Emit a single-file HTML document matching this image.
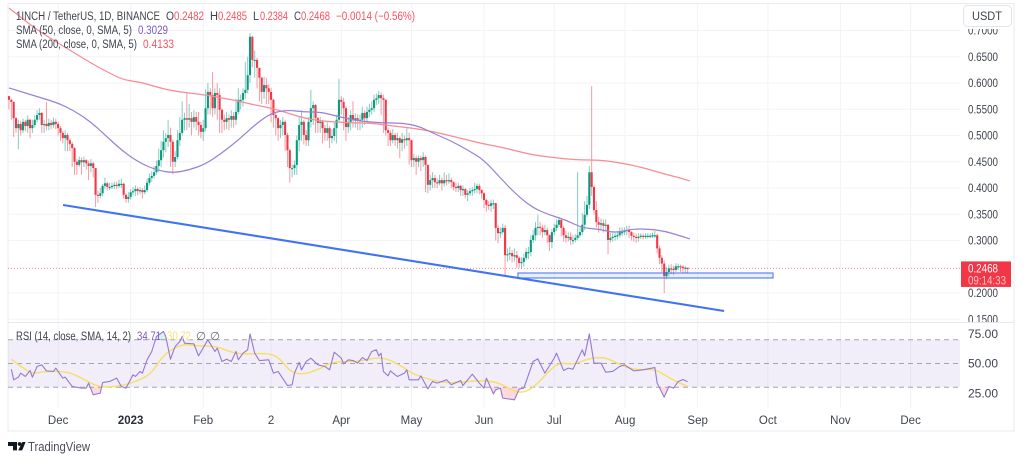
<!DOCTYPE html>
<html lang="en">
<head>
<meta charset="utf-8">
<title>1INCH / TetherUS chart</title>
<style>
html,body{margin:0;padding:0;background:#fff;width:1024px;height:462px;overflow:hidden}
svg{display:block;filter:blur(.3px)}
text{font-family:"Liberation Sans",sans-serif;font-size:11.5px;fill:#3f434e}
</style>
</head>
<body>
<svg id="chart" width="1024" height="462" viewBox="0 0 1024 462" xmlns="http://www.w3.org/2000/svg">
  <defs>
    <clipPath id="clip-price"><rect x="8" y="4" width="952" height="318"/></clipPath>
    <clipPath id="clip-axis"><rect x="961" y="29" width="52" height="293"/></clipPath>
  </defs>
  <rect x="8" y="3.5" width="1006" height="427.5" fill="#fff" stroke="#e9ebf1"/>
  <g id="grid"></g>
  <g id="rsi-pane"></g>
  <g id="price-pane" clip-path="url(#clip-price)"></g>
  <line x1="8" x2="1014" y1="322.5" y2="322.5" stroke="#e6e8ee"/>
  <g id="price-axis" clip-path="url(#clip-axis)"></g>
  <g id="rsi-axis"></g>
  <g id="time-axis"></g>
  <g id="last-price"></g>

  <g>
    <rect x="963.5" y="5.5" width="48" height="21" rx="4" fill="#fff" stroke="#e3e5ec"/>
    <text x="972" y="20" textLength="30" lengthAdjust="spacingAndGlyphs" fill="#2a2e39">USDT</text>
  </g>

  <g>
    <text x="16" y="20" textLength="144" lengthAdjust="spacingAndGlyphs">1INCH / TetherUS, 1D, BINANCE</text>
    <text x="166" y="20" textLength="8" lengthAdjust="spacingAndGlyphs">O</text>
    <text x="174" y="20" textLength="30" lengthAdjust="spacingAndGlyphs" style="fill:#f7525f">0.2482</text>
    <text x="210" y="20" textLength="8" lengthAdjust="spacingAndGlyphs">H</text>
    <text x="218" y="20" textLength="29" lengthAdjust="spacingAndGlyphs" style="fill:#f7525f">0.2485</text>
    <text x="253" y="20" textLength="6" lengthAdjust="spacingAndGlyphs">L</text>
    <text x="260" y="20" textLength="28" lengthAdjust="spacingAndGlyphs" style="fill:#f7525f">0.2384</text>
    <text x="294" y="20" textLength="7" lengthAdjust="spacingAndGlyphs">C</text>
    <text x="301" y="20" textLength="29" lengthAdjust="spacingAndGlyphs" style="fill:#f7525f">0.2468</text>
    <text x="336" y="20" textLength="79" lengthAdjust="spacingAndGlyphs" style="fill:#f7525f">−0.0014 (−0.56%)</text>
  </g>
  <g>
    <text x="16" y="34" textLength="116" lengthAdjust="spacingAndGlyphs">SMA (50, close, 0, SMA, 5)</text>
    <text x="138" y="34" textLength="30" lengthAdjust="spacingAndGlyphs" style="fill:#7e57c2">0.3029</text>
  </g>
  <g>
    <text x="16" y="48" textLength="121" lengthAdjust="spacingAndGlyphs">SMA (200, close, 0, SMA, 5)</text>
    <text x="143" y="48" textLength="31" lengthAdjust="spacingAndGlyphs" style="fill:#f7525f">0.4133</text>
  </g>
  <g>
    <text x="16" y="340" textLength="115" lengthAdjust="spacingAndGlyphs">RSI (14, close, SMA, 14, 2)</text>
    <text x="137" y="340" textLength="24" lengthAdjust="spacingAndGlyphs" style="fill:#7e57c2">34.71</text>
    <text x="167" y="340" textLength="24" lengthAdjust="spacingAndGlyphs" style="fill:#f7e27a">30.72</text>
    <text x="196" y="340" style="fill:#6a6d78">∅</text>
    <text x="210" y="340" style="fill:#6a6d78">∅</text>
  </g>

  <g>
    <path d="M8 442h9v8.4h-4v-4.4H8z" fill="#131722"/>
    <circle cx="19.6" cy="444" r="1.9" fill="#131722"/>
    <path d="M22.3 442H25.6l-3.4 8.4h-4z" fill="#131722"/>
    <text x="28" y="451" textLength="62" lengthAdjust="spacingAndGlyphs" style="font-size:13px;fill:#4a4e59">TradingView</text>
  </g>
</svg>
<script>
var closes = [
.568,.564,.533,.514,.522,.510,.526,.518,.530,.514,
.520,.530,.539,.543,.520,.522,.518,.524,.520,.526,
.522,.514,.505,.495,.501,.491,.484,.476,.450,.444,
.453,.449,.453,.447,.442,.447,.438,.387,.385,.390,
.404,.409,.402,.402,.404,.406,.404,.408,.408,.387,
.379,.383,.392,.394,.398,.394,.396,.392,.396,.410,
.419,.423,.430,.442,.453,.472,.488,.495,.501,.488,
.450,.459,.491,.505,.530,.533,.530,.533,.526,.535,
.526,.520,.507,.514,.552,.583,.577,.552,.581,.577,
.549,.530,.526,.533,.530,.537,.530,.545,.568,.568,
.581,.587,.615,.688,.644,.644,.629,.610,.583,.596,
.590,.583,.568,.539,.533,.514,.520,.526,.501,.472,
.438,.438,.444,.491,.520,.526,.501,.491,.526,.552,
.558,.533,.524,.526,.514,.505,.514,.495,.499,.514,
.530,.568,.564,.552,.516,.526,.539,.530,.533,.530,
.530,.543,.533,.545,.549,.552,.568,.571,.577,.571,
.568,.510,.505,.491,.501,.491,.495,.486,.493,.491,
.495,.491,.453,.457,.450,.457,.453,.459,.444,.406,
.415,.419,.411,.409,.415,.409,.415,.413,.415,.411,
.402,.400,.404,.396,.398,.387,.390,.394,.396,.398,
.404,.396,.390,.377,.368,.366,.371,.371,.324,.314,
.316,.324,.272,.274,.276,.270,.272,.267,.257,.259,
.267,.278,.278,.301,.310,.324,.326,.324,.316,.320,
.310,.297,.316,.324,.330,.339,.324,.310,.305,.307,
.301,.301,.305,.310,.316,.330,.349,.368,.430,.402,
.358,.335,.330,.333,.328,.330,.301,.305,.307,.309,
.310,.316,.316,.318,.320,.316,.309,.307,.305,.307,
.309,.307,.309,.309,.309,.310,.310,.285,.267,.256,
.232,.240,.247,.246,.244,.251,.251,.250,.248,.2482,.2468
];
var highs = [
.575,.570,.565,.535,.530,.528,.532,.530,.538,.532,
.530,.538,.548,.552,.545,.530,.564,.532,.530,.534,
.532,.526,.518,.508,.510,.505,.495,.488,.478,.455,
.460,.458,.460,.455,.452,.455,.450,.438,.395,.400,
.408,.420,.412,.410,.410,.412,.412,.416,.418,.410,
.390,.392,.398,.402,.405,.402,.402,.400,.405,.418,
.428,.432,.442,.452,.475,.490,.510,.505,.530,.515,
.492,.470,.510,.535,.565,.543,.583,.560,.545,.548,
.545,.545,.526,.530,.588,.600,.590,.621,.590,.600,
.590,.552,.540,.545,.540,.548,.545,.570,.590,.578,
.590,.640,.650,.695,.690,.662,.648,.625,.612,.612,
.610,.598,.590,.570,.545,.535,.530,.535,.530,.505,
.475,.445,.452,.500,.535,.548,.530,.510,.535,.587,
.565,.560,.535,.535,.530,.520,.525,.518,.512,.525,
.540,.608,.575,.572,.556,.535,.548,.565,.542,.540,
.540,.555,.548,.555,.560,.565,.578,.580,.585,.582,
.578,.570,.515,.510,.512,.505,.505,.498,.505,.500,
.514,.505,.492,.465,.462,.462,.462,.468,.462,.445,
.425,.430,.425,.418,.425,.420,.430,.425,.428,.420,
.413,.410,.410,.406,.405,.400,.396,.400,.402,.410,
.408,.408,.398,.392,.380,.375,.378,.378,.372,.330,
.325,.332,.330,.285,.288,.282,.285,.280,.270,.268,
.275,.285,.288,.310,.320,.335,.349,.335,.330,.330,
.325,.312,.322,.332,.340,.345,.342,.328,.318,.315,
.315,.310,.312,.430,.325,.352,.375,.385,.442,.594,
.405,.375,.345,.342,.340,.340,.332,.315,.315,.315,
.318,.325,.325,.325,.328,.328,.318,.315,.313,.314,
.314,.313,.314,.314,.314,.315,.318,.313,.290,.272,
.262,.250,.254,.255,.252,.257,.256,.254,.253,.252,.2485
];
var lows = [
.550,.530,.497,.505,.474,.500,.505,.508,.505,.495,
.505,.515,.525,.530,.505,.505,.510,.510,.512,.515,
.512,.500,.490,.485,.470,.470,.470,.440,.425,.425,
.440,.425,.440,.435,.415,.430,.420,.364,.372,.380,
.384,.398,.395,.396,.398,.398,.398,.400,.400,.380,
.372,.372,.378,.386,.385,.386,.388,.380,.388,.392,
.405,.412,.418,.425,.430,.440,.458,.468,.478,.440,
.426,.440,.455,.480,.500,.510,.510,.515,.500,.515,
.510,.500,.495,.490,.508,.540,.540,.535,.540,.530,
.505,.505,.510,.512,.510,.515,.515,.520,.540,.550,
.555,.570,.580,.600,.630,.610,.590,.565,.560,.570,
.560,.560,.525,.515,.500,.490,.495,.500,.470,.440,
.410,.420,.425,.425,.470,.490,.483,.480,.480,.515,
.520,.505,.505,.505,.485,.490,.490,.476,.485,.490,
.485,.525,.540,.510,.490,.505,.510,.515,.515,.510,
.510,.515,.520,.525,.535,.540,.545,.558,.560,.540,
.505,.500,.480,.480,.485,.480,.475,.457,.470,.475,
.480,.445,.440,.440,.425,.440,.432,.440,.392,.390,
.395,.400,.400,.400,.405,.395,.403,.405,.408,.400,
.395,.392,.392,.385,.385,.380,.375,.385,.385,.390,
.390,.388,.380,.362,.355,.358,.355,.360,.300,.295,
.305,.312,.234,.260,.262,.258,.260,.248,.248,.246,
.250,.262,.265,.270,.295,.300,.310,.310,.305,.310,
.295,.280,.285,.310,.318,.325,.308,.298,.296,.298,
.292,.292,.296,.300,.305,.310,.320,.345,.360,.385,
.350,.325,.315,.320,.315,.318,.274,.296,.298,.300,
.302,.306,.308,.310,.310,.305,.300,.298,.296,.298,
.303,.302,.303,.304,.304,.305,.305,.275,.255,.240,
.200,.226,.232,.236,.234,.240,.243,.240,.238,.238,.2384
];
var firstOpen = .575;
var smaDays = [0,7,14,21,28,35,42,49,56,63,70,77,84,91,98,105,112,119,126,133,140,147,154,161,168,175,182,189,196,203,210,217,224,231,238,245,252,259,266,273,280,287,291];
var sma50 = [.5905,.5810,.5714,.5619,.5467,.5257,.4971,.4686,.4476,.4343,.4286,.4343,.4457,.4667,.4914,.5200,.5429,.5486,.5448,.5448,.5371,.5295,.5257,.5238,.5238,.5181,.5029,.4895,.4724,.4533,.4190,.3867,.3619,.3486,.3390,.3238,.3219,.3143,.3219,.3219,.3181,.3086,.3029];
var sma200 = [.7429,.7181,.6952,.6762,.6571,.6381,.6210,.6057,.6019,.5924,.5848,.5810,.5771,.5714,.5657,.5581,.5524,.5429,.5333,.5276,.5257,.5238,.5238,.5200,.5162,.5124,.5067,.4990,.4914,.4838,.4781,.4705,.4629,.4590,.4552,.4533,.4533,.4495,.4438,.4362,.4267,.4190,.4133];
var rsiDays = [1,2,4,5,7,9,10,12,14,16,19,20,23,24,27,31,33,34,36,39,40,43,46,48,50,53,54,56,57,59,61,63,66,67,69,71,73,74,75,79,81,85,88,89,91,93,95,97,98,100,102,103,105,107,111,113,115,119,121,122,124,125,127,129,132,135,137,139,142,143,145,147,149,151,153,155,157,158,159,160,162,163,165,166,169,170,171,175,176,179,181,183,187,189,193,194,198,201,203,204,205,207,208,210,211,216,218,220,223,224,226,229,233,234,237,239,241,245,246,248,250,253,255,258,261,263,267,271,276,277,280,282,284,286,288,290];
var rsiValues = [45.2,36.3,38.5,41.9,39.1,44.1,38.5,47.5,48.9,43.8,43.3,46.1,37.7,38.5,30.7,29.3,29.3,33.5,23.7,25.1,34,34.9,37.7,30.7,29.3,40.5,39.1,43.3,41.9,53.1,60.1,72.7,76.9,72.7,53.6,64.3,68.5,72.7,67.1,66.5,56.4,69.9,60.1,62.9,51.7,53.6,51.7,60.1,53.1,58.7,61.5,74.9,58.7,52.5,53.1,41.9,43.3,31.5,32.1,41.9,51.1,44.7,51.7,54.5,48.9,47.5,44.7,59.5,54.5,49.7,53.1,52.5,50.3,55,52.5,60.1,61.5,56.4,58.7,43.3,39.6,43.8,40.5,39.1,41.9,44.7,36.3,36.3,39.6,28.7,34.9,33.5,36.3,32.1,35.7,31.5,41,33.5,29.3,37.7,33.5,24.5,27.9,29.3,20.9,19.5,28.4,29.3,46.1,51.7,53.9,41.9,54.5,58.7,44.1,46.1,45.2,61.5,56.4,74.9,50.3,50.3,42.7,43.3,47.5,48.9,43.8,44.7,46.6,33.5,21.7,30.7,29.3,34.9,36.5,34.71];
var rsiMaDays = [1,5,10,15,25,31,39,49,56,61,65,69,75,80,88,95,100,110,115,120,125,132,137,142,150,159,167,173,183,190,198,206,211,218,224,230,235,241,248,255,261,267,276,280,285,290];
var rsiMaValues = [53.6,47.5,41.3,43.3,43.3,37.7,29.3,31.5,36.3,41.9,54.5,61.5,66.5,64.8,64.8,59.5,57.8,58.7,55.9,43.3,40.5,44.7,50.3,51.7,51.7,55.9,48.9,40.5,34.9,33.5,35.4,35.4,32.1,24.5,29.3,41.9,51.1,48.9,54.5,55.3,48.9,44.7,45.2,40.5,34.9,30.72];
var monthLabels = ["Dec","2023","Feb","2","Apr","May","Jun","Jul","Aug","Sep","Oct","Nov","Dec"];
var monthDays = [21,52,83,112,142,172,203,233,263.3,294.3,324.3,355.3,385.3];
var priceTicks = [0.7,0.65,0.6,0.55,0.5,0.45,0.4,0.35,0.3,0.2,0.15];
var priceLabels = ["0.7000","0.6500","0.6000","0.5500","0.5000","0.4500","0.4000","0.3500","0.3000","0.2000","0.1500"];
var rsiTicks = [75,50,25];
var rsiLabels = ["75.00","50.00","25.00"];
var rsiBands = [70,50,30];
var trendDays = [23.1,305.6];
var trendPrices = [.3676,.1657];
var zoneDays = [217.5,326.5];
var zonePrices = [.2381,.2286];
var lastPrice = .2468;

function xOf(day){return 9+2.34*day;}
function yOf(price){return 293-(price-0.2)*525;}
function yRsi(v){return 363.5-(v-50)*1.19;}

var NS = 'http://www.w3.org/2000/svg';
function make(tag,parent,attrs){
  var el = document.createElementNS(NS,tag);
  for(var k in attrs){el.setAttribute(k,attrs[k]);}
  parent.appendChild(el);
  return el;
}
function smooth(days,values,fy){
  var pts = days.map(function(d,i){return [xOf(d),fy(values[i])];});
  var d = 'M'+pts[0][0]+' '+pts[0][1];
  for(var i=1;i<pts.length-1;i++){
    var mx=(pts[i][0]+pts[i+1][0])/2, my=(pts[i][1]+pts[i+1][1])/2;
    d += 'Q'+pts[i][0]+' '+pts[i][1]+' '+mx+' '+my;
  }
  var e = pts[pts.length-1];
  return d+'L'+e[0]+' '+e[1];
}
function straight(days,values,fy){
  return days.map(function(d,i){return (i?'L':'M')+xOf(d).toFixed(2)+' '+fy(values[i]).toFixed(2);}).join('');
}

var grid = document.getElementById('grid');
var timeAxis = document.getElementById('time-axis');
var priceAxis = document.getElementById('price-axis');
var rsiAxis = document.getElementById('rsi-axis');
var rsiPane = document.getElementById('rsi-pane');
var pricePane = document.getElementById('price-pane');
var lastGroup = document.getElementById('last-price');

monthDays.forEach(function(day,i){
  var v = make('line',grid,{x1:xOf(day),x2:xOf(day),y1:4,y2:408,stroke:'#f1f3f7'});
  
  
  var t = make('text',timeAxis,{x:xOf(day),y:424,'text-anchor':'middle'});
  
  
  t.textContent = monthLabels[i];
  if(monthLabels[i]==='2023'){t.style.fontWeight='bold';t.style.fill='#2a2e39';}
});
priceTicks.forEach(function(p,i){
  var h = make('line',grid,{x1:8,x2:960,y1:yOf(p),y2:yOf(p),stroke:'#f1f3f7'});
  
  
  var t = make('text',priceAxis,{x:968,y:yOf(p)+4,textLength:30,lengthAdjust:'spacingAndGlyphs'});
  
  
  t.textContent = priceLabels[i];
});
rsiTicks.forEach(function(v,i){
  var t = make('text',rsiAxis,{x:968,y:yRsi(v)+4,textLength:30,lengthAdjust:'spacingAndGlyphs'});
  
  
  t.textContent = rsiLabels[i];
});

/* RSI pane */
var band = make('rect',rsiPane,{x:8,width:952,y:yRsi(rsiBands[0]),height:yRsi(rsiBands[2])-yRsi(rsiBands[0]),fill:'#7e57c2','fill-opacity':.1});


rsiBands.forEach(function(v){
  var l = make('line',rsiPane,{x1:8,x2:960,y1:yRsi(v),y2:yRsi(v),stroke:'#a3a4ad','stroke-width':1,'stroke-dasharray':'5 4'});
  
  
});
var last = rsiDays.length-1;
function closed(base){
  return 'M'+xOf(rsiDays[0])+' '+yRsi(base)+straight(rsiDays,rsiValues,yRsi).replace('M','L')+'L'+xOf(rsiDays[last])+' '+yRsi(base)+'Z';
}
var defs = document.querySelector('defs');
var clipLow = make('clipPath',defs,{id:'clip-low'});
make('rect',clipLow,{x:8,y:yRsi(rsiBands[2]),width:952,height:30});
var clipHigh = make('clipPath',defs,{id:'clip-high'});
make('rect',clipHigh,{x:8,y:yRsi(rsiBands[0])-30,width:952,height:30});
var lowFill = make('path',rsiPane,{d:closed(rsiBands[2]),fill:'#f7525f','fill-opacity':.22,'clip-path':'url(#clip-low)'});


var highFill = make('path',rsiPane,{d:closed(rsiBands[0]),fill:'#089981','fill-opacity':.15,'clip-path':'url(#clip-high)'});


var rsiMa = make('path',rsiPane,{d:smooth(rsiMaDays,rsiMaValues,yRsi),fill:'none',stroke:'#f7de64','stroke-width':1.4});


var rsiLine = make('path',rsiPane,{d:straight(rsiDays,rsiValues,yRsi),fill:'none',stroke:'#9479d2','stroke-width':1.1,'stroke-linejoin':'round'});



/* Candles */
closes.forEach(function(c,i){
  var o = i ? closes[i-1] : firstOpen;
  var up = c>=o;
  var hi = Math.max(highs[i],o,c), lo = Math.min(lows[i],o,c);
  var colour = up ? '#089981' : '#f23645';
  var x = xOf(i);
  var w = make('line',pricePane,{x1:x,x2:x,y1:yOf(hi),y2:yOf(lo),stroke:colour,'stroke-opacity':.5,'stroke-width':1});
  
  
  var top = yOf(Math.max(o,c));
  var b = make('rect',pricePane,{x:x-1.05,width:2.1,y:top,height:Math.max(yOf(Math.min(o,c))-top,1.2),fill:colour});
  
  
});

var s200 = make('path',pricePane,{d:smooth(smaDays,sma200,yOf),fill:'none',stroke:'#f88b94','stroke-width':1.2});


var s50 = make('path',pricePane,{d:smooth(smaDays,sma50,yOf),fill:'none',stroke:'#9a80d4','stroke-width':1.2});



var priceLine = make('line',pricePane,{x1:8,x2:960,y1:yOf(lastPrice),y2:yOf(lastPrice),stroke:'#f7525f','stroke-opacity':.7,'stroke-width':1,'stroke-dasharray':'1 2'});



var trend = make('line',pricePane,{x1:xOf(trendDays[0]),x2:xOf(trendDays[1]),y1:yOf(trendPrices[0]),y2:yOf(trendPrices[1]),stroke:'#3f72f5','stroke-width':2.1});


var zone = make('rect',pricePane,{x:xOf(zoneDays[0]),width:xOf(zoneDays[1])-xOf(zoneDays[0]),y:yOf(zonePrices[0]),height:yOf(zonePrices[1])-yOf(zonePrices[0]),fill:'#2962ff','fill-opacity':.1,stroke:'#3a6ff2','stroke-width':1});



/* Last price label */
var boxTop = yOf(lastPrice)-7;
var box = make('rect',lastGroup,{x:961,y:boxTop,width:50,height:25.5,fill:'#f23645'});


var lp = make('text',lastGroup,{x:968,y:boxTop+11,textLength:30,lengthAdjust:'spacingAndGlyphs'});


lp.style.fill = '#fff';
lp.textContent = lastPrice.toFixed(4);
var cd = make('text',lastGroup,{x:968,y:boxTop+23,textLength:38,lengthAdjust:'spacingAndGlyphs'});


cd.style.fill = '#fbc2c7';
cd.textContent = '09:14:33';
</script>
</body>
</html>
